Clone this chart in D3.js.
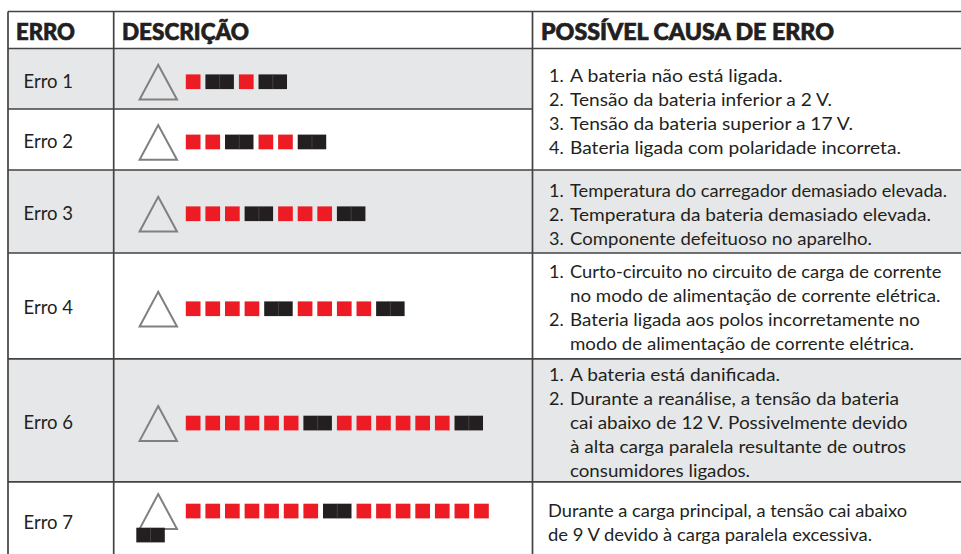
<!DOCTYPE html>
<html lang="pt">
<head>
<meta charset="utf-8">
<style>
  html, body { margin: 0; padding: 0; background: #fff; }
  svg { display: block; }
  text { fill: #231f20; font-family: Lato, "Open Sans", sans-serif; }
  .head { font-weight: 900; font-size: 23.5px; stroke: #231f20; stroke-width: 0.7px; }
  .label { font-size: 18.5px; font-weight: 400; }
  .cause { font-size: 18px; font-weight: 400; }
</style>
<script src="https://cdn.jsdelivr.net/npm/d3@7"></script>
</head>
<body>
<script>
// Table content
const headers = ['ERRO', 'DESCRIÇÃO', 'POSSÍVEL CAUSA DE ERRO'];
const errorLabels = ['Erro 1', 'Erro 2', 'Erro 3', 'Erro 4', 'Erro 6', 'Erro 7'];
// red blinks before each long black blink
const redCounts = [1, 2, 3, 4, 6, 7];

const causes1 = [
  ['1.', 'A bateria não está ligada.'],
  ['2.', 'Tensão da bateria inferior a 2 V.'],
  ['3.', 'Tensão da bateria superior a 17 V.'],
  ['4.', 'Bateria ligada com polaridade incorreta.']
];
const causes2 = [
  ['1.', 'Temperatura do carregador demasiado elevada.'],
  ['2.', 'Temperatura da bateria demasiado elevada.'],
  ['3.', 'Componente defeituoso no aparelho.']
];
const causes3 = [
  ['1.', 'Curto-circuito no circuito de carga de corrente'],
  ['', 'no modo de alimentação de corrente elétrica.'],
  ['2.', 'Bateria ligada aos polos incorretamente no'],
  ['', 'modo de alimentação de corrente elétrica.']
];
const causes4 = [
  ['1.', 'A bateria está danificada.'],
  ['2.', 'Durante a reanálise, a tensão da bateria'],
  ['', 'cai abaixo de 12 V. Possivelmente devido'],
  ['', 'à alta carga paralela resultante de outros'],
  ['', 'consumidores ligados.']
];
const causes5 = [
  ['', 'Durante a carga principal, a tensão cai abaixo'],
  ['', 'de 9 V devido à carga paralela excessiva.']
];

// Layout
const W = 961, H = 554;
const COL_X = [8, 113.7, 532.5, 961];
const ROW_Y = [48.5, 109, 170, 253, 358.8, 481.8, 554];
const TOP_Y = 11.5;
const SQUARE_TOP = [74.4, 134.6, 206.4, 301.4, 415.7, 503.7];
const LABEL_BASE = [88, 148, 220, 314, 429.3, 529];
// right edge of each line in the reference, the fallback font runs narrower than the original
const CAUSE_BLOCKS = [
  { lines: causes1, base: 82, ends: [782.5, 832, 853, 901] },
  { lines: causes2, base: 196.7, ends: [947, 931, 872] },
  { lines: causes3, base: 278, ends: [941.5, 940.5, 920, 914] },
  { lines: causes4, base: 381, ends: [780, 899, 907.5, 906, 750] },
  { lines: causes5, base: 516.7, ends: [907, 872] }
];
const LINE_H = 24.1;
const RED = '#ed1c24', BLACK = '#231f20', GREY = '#e6e7e8', RULE = '#434343';

const svg = d3.select('body').append('svg').attr('width', W).attr('height', H);

// one red blink = 1 unit, a black one takes 1.7
const xUnit = d3.scaleLinear().domain([0, 1]).range([185.8, 205.4]);
const SQ = 14.7;
const BLACK_UNITS = 1.71;

// Row shading
const bg = svg.append('g');
errorLabels.forEach((_, i) => {
  if (i % 2 === 0) {
    bg.append('rect')
      .attr('x', COL_X[0]).attr('y', ROW_Y[i])
      .attr('width', COL_X[2] - COL_X[0])
      .attr('height', ROW_Y[i + 1] - ROW_Y[i])
      .attr('fill', GREY);
  }
});
// first cause cell spans Erro 1 and 2 and stays white
bg.append('rect').attr('x', COL_X[2]).attr('y', ROW_Y[2])
  .attr('width', W - COL_X[2]).attr('height', ROW_Y[3] - ROW_Y[2]).attr('fill', GREY);
bg.append('rect').attr('x', COL_X[2]).attr('y', ROW_Y[4])
  .attr('width', W - COL_X[2]).attr('height', ROW_Y[5] - ROW_Y[4]).attr('fill', GREY);

// Rules
const rules = svg.append('g').attr('stroke', RULE).attr('stroke-width', 1.7);
[TOP_Y, ...ROW_Y.slice(0, 6)].forEach(y => {
  rules.append('line')
    .attr('x1', COL_X[0]).attr('x2', y === ROW_Y[1] ? COL_X[2] : W)
    .attr('y1', y).attr('y2', y);
});
COL_X.slice(0, 3).forEach(x => {
  rules.append('line').attr('x1', x).attr('x2', x).attr('y1', TOP_Y).attr('y2', H);
});

// Headers
const HEAD_X = [16, 122, 541];
const HEAD_W = [59, 127, 293];
headers.forEach((h, i) => {
  svg.append('text').attr('class', 'head')
    .attr('x', HEAD_X[i]).attr('y', 40)
    .attr('textLength', HEAD_W[i]).attr('lengthAdjust', 'spacingAndGlyphs')
    .text(h);
});

// Error rows
errorLabels.forEach((label, i) => {
  const top = SQUARE_TOP[i];
  svg.append('text').attr('class', 'label')
    .attr('x', 23.5).attr('y', LABEL_BASE[i]).text(label);

  svg.append('path')
    .attr('d', d3.line()([[158.2, top - 9.6], [177, top + 25.2], [139.6, top + 25.2]]) + 'Z')
    .attr('fill', 'none').attr('stroke', '#808080').attr('stroke-width', 2);

  const n = redCounts[i];
  let u = 0;
  const red = () => {
    svg.append('rect').attr('x', xUnit(u)).attr('y', top)
      .attr('width', SQ).attr('height', SQ).attr('fill', RED);
    u += 1;
  };
  const black = (x, y) => {
    svg.append('rect').attr('x', x).attr('y', y)
      .attr('width', 28.5).attr('height', SQ).attr('fill', BLACK);
    svg.append('line').attr('x1', x + 14.25).attr('x2', x + 14.25)
      .attr('y1', y).attr('y2', y + SQ)
      .attr('stroke', '#555').attr('stroke-width', 0.6);
  };
  d3.range(n).forEach(red);
  black(xUnit(u), top);
  u += BLACK_UNITS;
  d3.range(n).forEach(red);
  // Erro 7 runs out of room, its last black blink wraps under the triangle
  if (n === 7) black(136.3, top + 24);
  else black(xUnit(u), top);
});

// Causes
CAUSE_BLOCKS.forEach(block => {
  const plain = block.lines === causes5;
  const x0 = plain ? 548 : 570;
  block.lines.forEach(([num, txt], j) => {
    const y = block.base + j * LINE_H;
    if (num) svg.append('text').attr('class', 'cause').attr('x', 549).attr('y', y).text(num);
    svg.append('text').attr('class', 'cause')
      .attr('x', x0).attr('y', y)
      .attr('textLength', block.ends[j] - x0).attr('lengthAdjust', 'spacingAndGlyphs')
      .text(txt);
  });
});
</script>
</body>
</html>
